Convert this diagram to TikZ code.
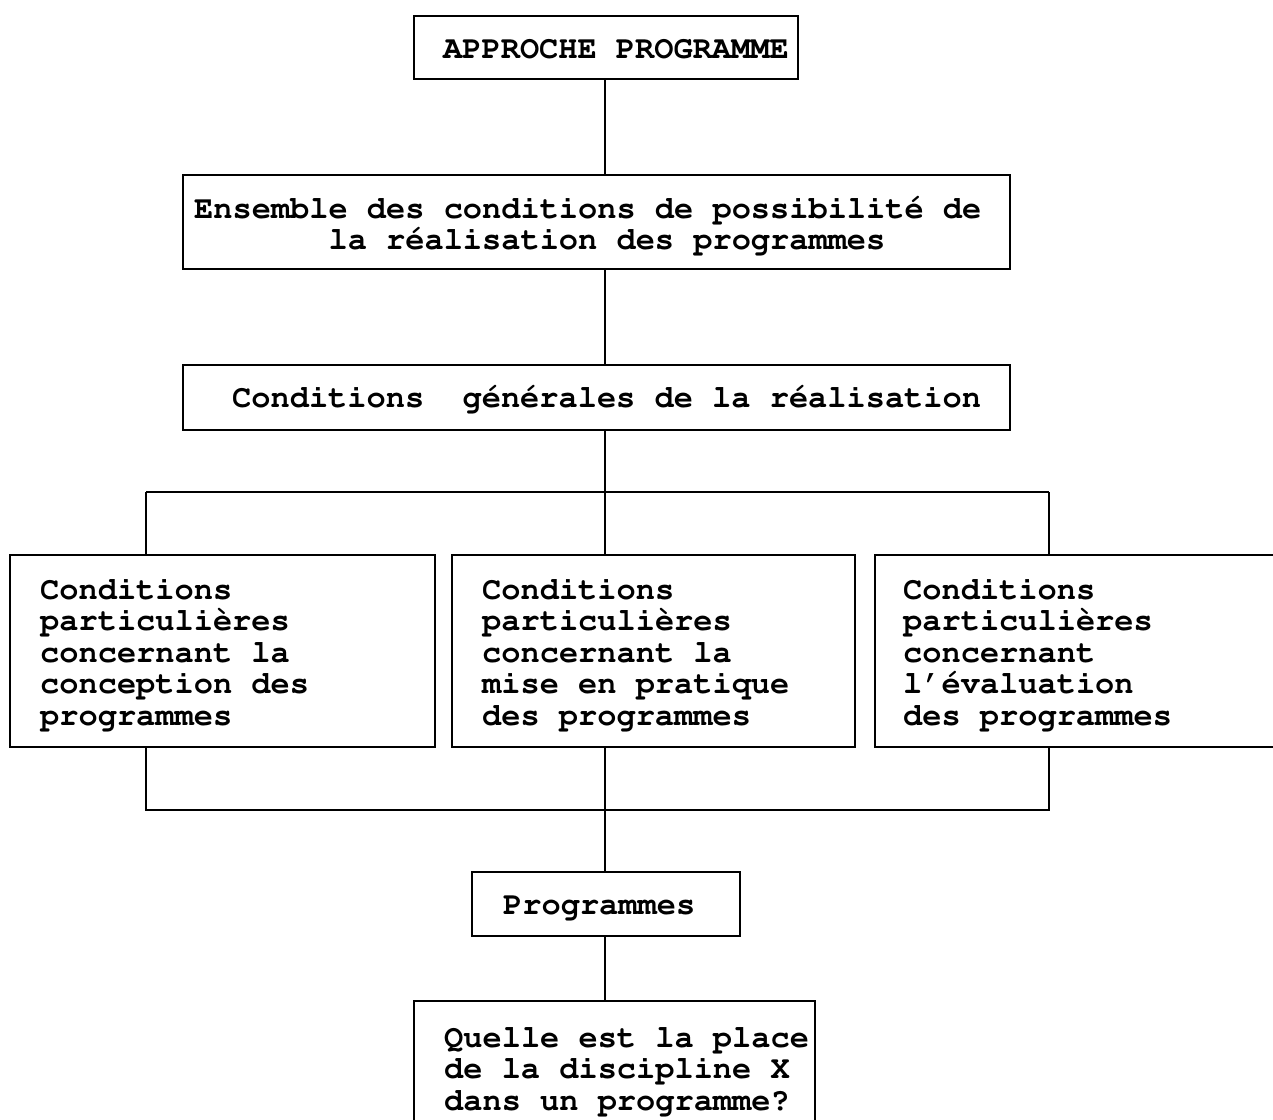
\documentclass[tikz,border=0pt]{standalone}
\usepackage[T1]{fontenc}
\usepackage{courier}
\newcommand{\boxfont}{\fontfamily{pcr}\fontseries{b}\fontsize{32}{31.5}\selectfont\fontdimen2\font=19.2pt\fontdimen3\font=0pt\fontdimen4\font=0pt\fontdimen7\font=0pt\relax}
\begin{document}
\begin{tikzpicture}[x=1pt,y=-1pt,
  frame/.style={draw, line width=2.5pt, inner sep=0pt, outer sep=0pt, anchor=north west},
  txt/.style={anchor=base west, inner sep=0pt, text width=1100pt, align=flush left, font=\boxfont,
    execute at begin node={\spaceskip=19.2pt\relax\xspaceskip=19.2pt\relax}},
  link/.style={line width=2.5pt}]
\useasboundingbox (0,0) rectangle (1273,1119);
\fill[white] (0,0) rectangle (1273,1119);
% boxes
\node[frame, minimum width=384pt, minimum height=63pt] (b1) at (414,16) {};
\node[frame, minimum width=827pt, minimum height=94pt] (b2) at (183,175) {};
\node[frame, minimum width=827pt, minimum height=65pt] (b3) at (183,365) {};
\node[frame, minimum width=425pt, minimum height=192pt] (bL) at (10,555) {};
\node[frame, minimum width=403pt, minimum height=192pt] (bM) at (452,555) {};
\node[frame, minimum width=415pt, minimum height=192pt] (bR) at (875,555) {};
\node[frame, minimum width=268pt, minimum height=64pt] (bP) at (472,872) {};
\node[frame, minimum width=401pt, minimum height=139pt] (bQ) at (414,1001) {};
% texts
\node[txt] (t1) at (443,58) {APPROCHE PROGRAMME};
\node[txt] (t2) at (194,218) {Ensemble des conditions de possibilité de\\\phantom{xxxxxxx}la réalisation des programmes};
\node[txt] (t3) at (232,407) {Conditions\phantom{x} générales de la réalisation};
\node[txt] (tL) at (40,599) {Conditions\\particulières\\concernant la\\conception des\\programmes};
\node[txt] (tM) at (482,599) {Conditions\\particulières\\concernant la\\mise en pratique\\des programmes};
\node[txt] (tR) at (903,599) {Conditions\\particulières\\concernant\\l'évaluation\\des programmes};
\node[txt] (tP) at (503,914) {Programmes};
\node[txt] (tQ) at (444,1047) {Quelle est la place\\de la discipline X\\dans un programme?};
% junction coordinates
\coordinate (ax) at (605,0);
\coordinate (tl) at (146,492);
\coordinate (tc) at (605,492);
\coordinate (tr) at (1049,492);
\coordinate (bl) at (146,810);
\coordinate (bc) at (605,810);
\coordinate (br) at (1049,810);
% connectors
\draw[link] (ax |- b1.south) -- (ax |- b2.north);
\draw[link] (ax |- b2.south) -- (ax |- b3.north);
\draw[link] (ax |- b3.south) -- (tc);
\draw[link] (tl) -- (tr);
\draw[link] (tl) -- (tl |- bL.north);
\draw[link] (tc) -- (tc |- bM.north);
\draw[link] (tr) -- (tr |- bR.north);
\draw[link] (bl |- bL.south) -- (bl) -- (br) -- (br |- bR.south);
\draw[link] (bc |- bM.south) -- (bc |- bP.north);
\draw[link] (ax |- bP.south) -- (ax |- bQ.north);
\end{tikzpicture}
\end{document}
